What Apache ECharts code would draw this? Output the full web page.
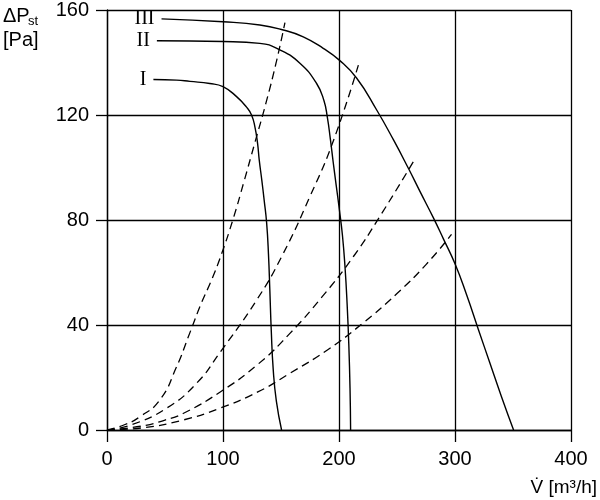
<!DOCTYPE html>
<html>
<head>
<meta charset="utf-8">
<script src="https://cdn.jsdelivr.net/npm/echarts@6/dist/echarts.min.js"></script>
<style>
  html, body { margin: 0; padding: 0; background: #fff; }
  #main { width: 600px; height: 500px; }
</style>
</head>
<body>
<div id="main"></div>
<script>
// 坐标刻度
var xTicks = [0, 100, 200, 300, 400];
var yTicks = [0, 40, 80, 120, 160];

// 风机特性曲线 I / II / III  [V, ΔPst]
var curveI = [[40, 133.5], [60, 133.3], [71.5, 132.8], [88.6, 132], [100, 130.8], [111.7, 127],
  [120.3, 123], [124.6, 120], [127.5, 115.5], [129.8, 109.2], [131.2, 103], [133.5, 95],
  [135.5, 87.5], [137.6, 79], [139.2, 67], [140.4, 53], [141.6, 38], [143.3, 23], [146, 11],
  [150.5, 0]];
var curveII = [[43, 148.3], [100, 148], [131.8, 147.3], [149, 144.8], [166.3, 139.7],
  [180.7, 132], [187, 125.5], [190, 119], [192.5, 111], [195, 102], [197.5, 93.5],
  [200.3, 84], [203, 74], [205.2, 62], [207, 48], [208.5, 32], [209.5, 16], [210, 0]];
var curveIII = [[47, 156.6], [100, 155.5], [131.8, 154.3], [151.9, 152.4], [169.2, 149.8],
  [186.4, 145.4], [200, 141], [215.3, 134], [232.5, 121.9], [247, 110.5], [259.8, 99.7],
  [270, 90.7], [281.4, 80.8], [290, 72.8], [300, 63.3], [310, 51.5], [320, 38.5],
  [330, 25.6], [340, 12.8], [350.5, 0]];
var fanNames = ['I', 'II', 'III'];

// 管网特性曲线（虚线）
var sys1 = [[0, 0], [15, 2], [28.2, 5], [45.5, 11.4], [59.9, 24], [71.4, 37], [81.5, 48.5],
  [90, 57], [98.7, 67], [108.8, 80.5], [118, 94.5], [127.5, 109.5], [137, 124.5],
  [146, 140.3], [153.4, 155.2]];
var sys2 = [[0, 0], [20, 1.8], [51.3, 8.3], [77.2, 17.8], [97.3, 29.5], [129, 49.5],
  [150.5, 66], [175, 89], [195, 110], [216.7, 139]];
var sys3 = [[0, 0], [30, 1.5], [50, 3.8], [65.6, 6.3], [97.3, 14.4], [130, 25],
  [157.7, 36.8], [185, 50.5], [212.3, 66], [235.4, 81.5], [264.1, 102.2]];
var sys4 = [[0, 0], [30, 0.8], [65.6, 3.8], [97.3, 8.3], [130, 14.5], [157.7, 21.6],
  [190, 30.5], [220, 40.5], [250, 52], [275, 63], [297, 74.5]];

var myChart = echarts.init(document.getElementById('main'));

var fanSeries = [curveI, curveII, curveIII].map(function (d, i) {
  return {
    name: fanNames[i],
    type: 'line',
    data: d,
    showSymbol: false,
    smooth: 0.5,
    lineStyle: { color: '#000', width: 1.4 },
    markPoint: {
      symbol: 'circle',
      symbolSize: 0,
      label: {
        show: true,
        position: 'left',
        distance: 7,
        formatter: fanNames[i],
        fontFamily: 'Liberation Serif',
        fontSize: 20,
        color: '#000'
      },
      data: [{ coord: d[0] }]
    },
    z: 3
  };
});

var sysSeries = [sys1, sys2, sys3, sys4].map(function (d) {
  return {
    type: 'line',
    data: d,
    showSymbol: false,
    smooth: 0.5,
    lineStyle: { color: '#000', width: 1.3, type: [8, 5] },
    z: 3
  };
});

option = {
  animation: false,
  backgroundColor: '#fff',
  textStyle: { fontFamily: 'Liberation Sans' },
  grid: { left: 107, right: 29, top: 10, bottom: 70 },
  xAxis: {
    type: 'value',
    min: xTicks[0],
    max: xTicks[xTicks.length - 1],
    interval: 100,
    axisLine: { show: true, lineStyle: { color: '#000', width: 1.3 } },
    axisTick: { show: true, length: 12, lineStyle: { color: '#000', width: 1.3 } },
    splitLine: { show: true, lineStyle: { color: '#000', width: 1.3 } },
    axisLabel: { color: '#000', fontSize: 20, margin: 19 }
  },
  yAxis: {
    type: 'value',
    min: yTicks[0],
    max: yTicks[yTicks.length - 1],
    interval: 40,
    axisLine: { show: true, lineStyle: { color: '#000', width: 1.3 } },
    axisTick: { show: true, length: 11, lineStyle: { color: '#000', width: 1.3 } },
    splitLine: { show: true, lineStyle: { color: '#000', width: 1.3 } },
    axisLabel: { color: '#000', fontSize: 20, margin: 18 }
  },
  graphic: [
    { type: 'text', left: 3, top: 6, style: { text: 'ΔP', fontFamily: 'Liberation Sans', fontSize: 20, fill: '#000' } },
    { type: 'text', left: 28, top: 15, style: { text: 'st', fontFamily: 'Liberation Sans', fontSize: 13, fill: '#000' } },
    { type: 'text', left: 3, top: 30, style: { text: '[Pa]', fontFamily: 'Liberation Sans', fontSize: 20, fill: '#000' } },
    { type: 'text', right: 3, top: 478, style: { text: 'V\u0307 [m³/h]', fontFamily: 'Liberation Sans', fontSize: 19, fill: '#000' } }
  ],
  series: fanSeries.concat(sysSeries)
};

myChart.setOption(option);
</script>
</body>
</html>
